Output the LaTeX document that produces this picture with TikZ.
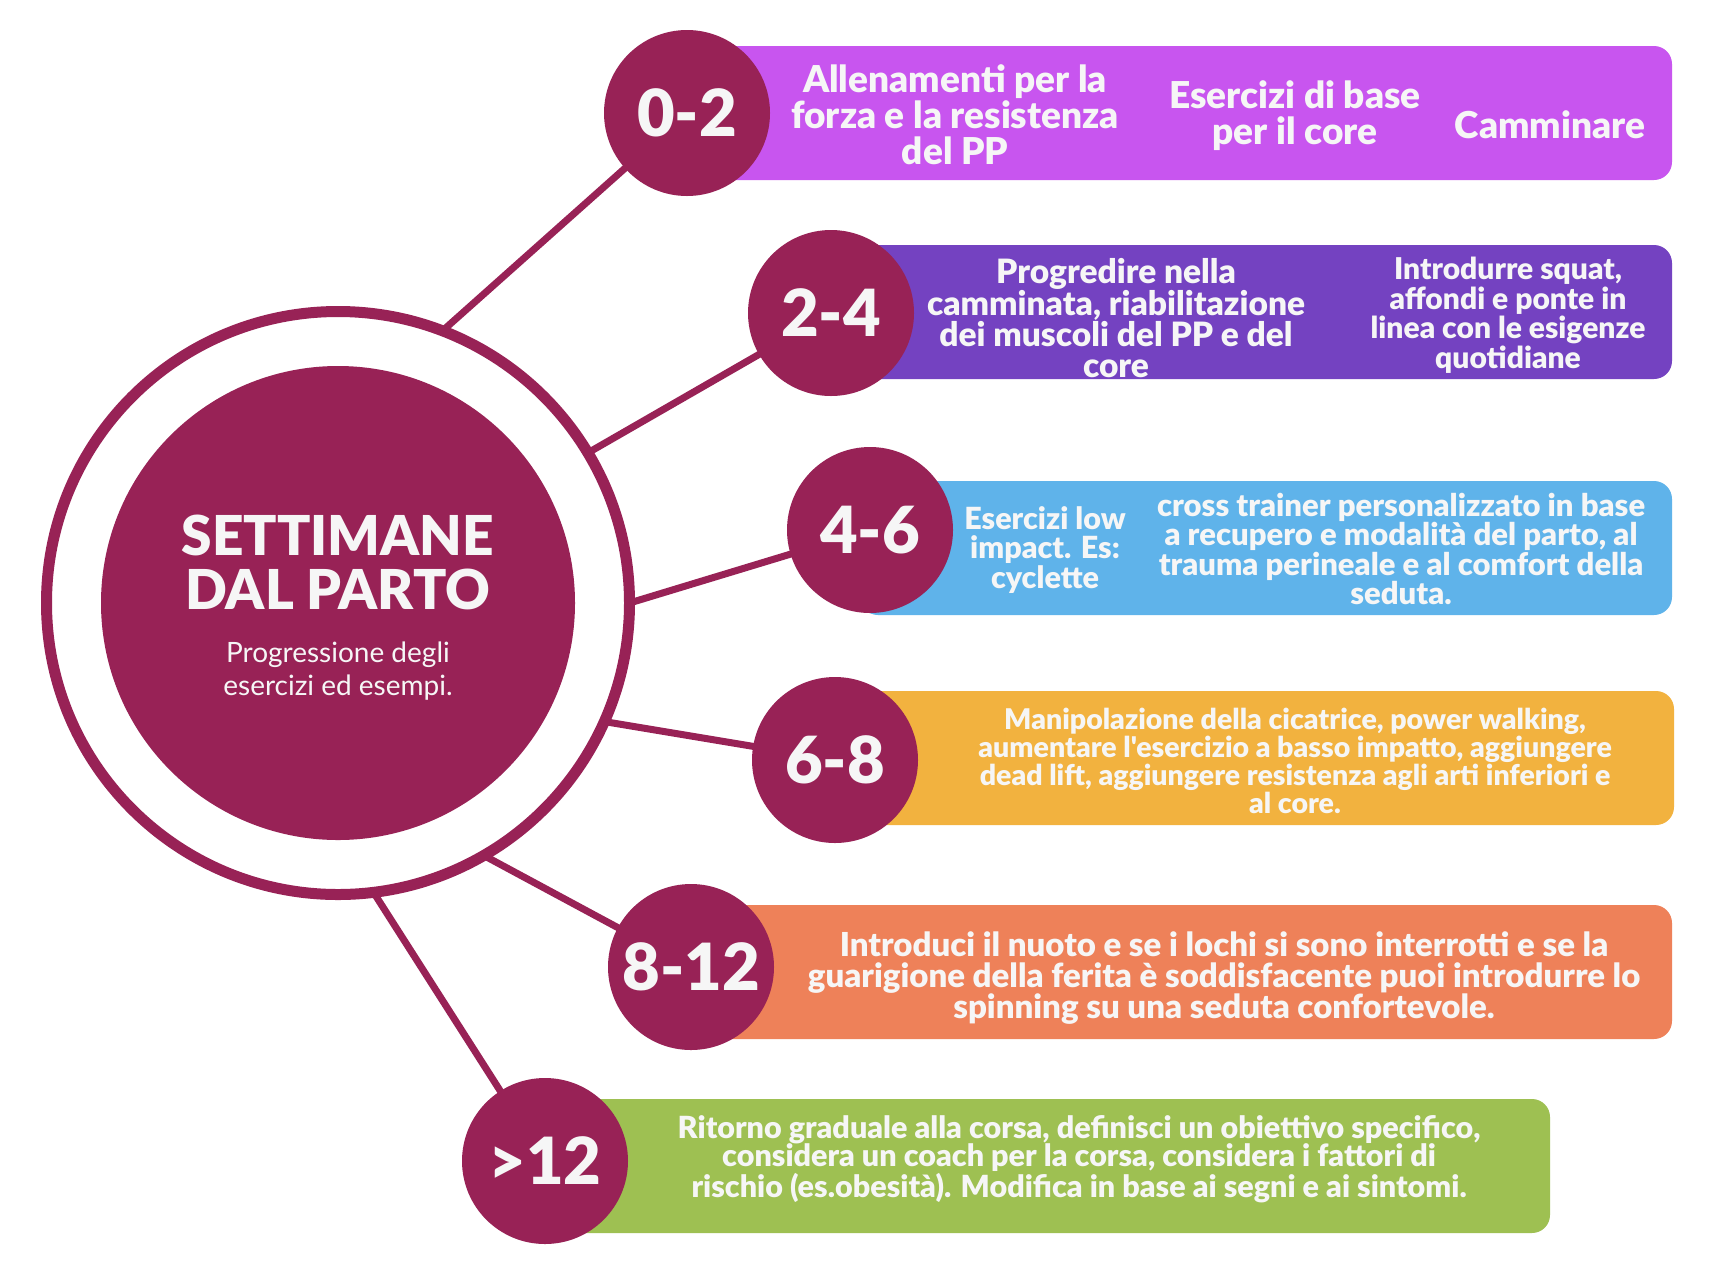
\documentclass[tikz,border=0pt]{standalone}
\usepackage{fontspec}
\setmainfont{Lato}
\newfontfamily\heavy{Lato Black}
\usetikzlibrary{backgrounds}
\definecolor{maroon}{HTML}{982256}
\definecolor{txt}{HTML}{F6F6F6}
\definecolor{colA}{HTML}{C855EF}
\definecolor{colB}{HTML}{7442C1}
\definecolor{colC}{HTML}{5FB3EA}
\definecolor{colD}{HTML}{F2B23F}
\definecolor{colE}{HTML}{EE8159}
\definecolor{colF}{HTML}{9EC052}
\begin{document}
\begin{tikzpicture}[x=1pt,y=-1pt,
  every node/.style={inner sep=0pt, outer sep=0pt},
  num/.style={circle, fill=maroon, minimum size=166pt, text=txt, font=\heavy\fontsize{65}{65}\selectfont},
  conn/.style={draw=maroon, line width=7pt},
  bar/.style={rounded corners=18pt, minimum height=134pt, anchor=north west},
  btxt/.style 2 args={text=txt, align=center, font=\heavy\fontsize{#1}{#2}\selectfont}
]
\useasboundingbox (0,0) rectangle (1710,1270);

% bars
\node[bar, fill=colA, minimum width=995pt] (b1) at (677,46) {};
\node[bar, fill=colB, minimum width=851pt] (b2) at (821,245) {};
\node[bar, fill=colC, minimum width=812pt] (b3) at (860,481) {};
\node[bar, fill=colD, minimum width=849pt] (b4) at (825,691) {};
\node[bar, fill=colE, minimum width=991pt] (b5) at (681,905) {};
\node[bar, fill=colF, minimum width=1015pt] (b6) at (535,1099) {};

% hub
\node[circle, draw=maroon, line width=11pt, fill=white, minimum size=583pt] (hub) at (338,603) {};
\node[circle, fill=maroon, minimum size=474pt] (core) at (338,603) {};

% number circles
\node[num] (c1) at (687,113) {0-2};
\node[num] (c2) at (831,313) {2-4};
\node[num] (c3) at (870,530) {4-6};
\node[num] (c4) at (835,760) {6-8};
\node[num] (c5) at (691,967) {8-12};
\node[num] (c6) at (545,1161) {>12};

% background and connectors
\begin{pgfonlayer}{background}
\fill[white] (0,0) rectangle (1710,1270);
\draw[conn] (hub.69.1) -- (c1.center);
\draw[conn] (hub.31.6) -- (c2.center);
\draw[conn] (hub.0.6) -- (c3.center);
\draw[conn] (hub.-24.1) -- (c4.center);
\draw[conn] (hub.-60.1) -- (c5.center);
\draw[conn] (hub.-83.7) -- (c6.center);
\end{pgfonlayer}

% title
\node[text=txt, align=center, font=\heavy\fontsize{55}{54}\selectfont] (title) at (338,562) {SETTIMANE\\DAL PARTO};
\node[text=txt, align=center, font=\fontsize{28}{33}\selectfont] (sub) at (338,671) {Progressione degli\\esercizi ed esempi.};

% bar texts
\node[btxt={37}{36}] (t1a) at (955,115) {Allenamenti per la\\forza e la resistenza\\del PP};
\node[btxt={37}{36}] (t1b) at (1295,116) {Esercizi di base\\per il core};
\node[btxt={37}{36}] (t1c) at (1550,125) {Camminare};

\node[btxt={33.5}{31}] (t2a) at (1116,318) {Progredire nella\\camminata, riabilitazione\\dei muscoli del PP e del\\core};
\node[btxt={30}{29.5}] (t2b) at (1508,315) {Introdurre squat,\\affondi e ponte in\\linea con le esigenze\\quotidiane};

\node[btxt={30.5}{29.5}] (t3a) at (1045,550) {Esercizi low\\impact. Es:\\cyclette};
\node[btxt={31}{29.5}] (t3b) at (1401,549) {cross trainer personalizzato in base\\a recupero e modalità del parto, al\\trauma perineale e al comfort della\\seduta.};

\node[btxt={28.5}{28}] (t4) at (1295,761) {Manipolazione della cicatrice, power walking,\\aumentare l'esercizio a basso impatto, aggiungere\\dead lift, aggiungere resistenza agli arti inferiori e\\al core.};

\node[btxt={33}{31}] (t5) at (1224,978) {Introduci il nuoto e se i lochi si sono interrotti e se la\\guarigione della ferita è soddisfacente puoi introdurre lo\\spinning su una seduta confortevole.};

\node[btxt={30.5}{28.5}] (t6) at (1079,1159) {Ritorno graduale alla corsa, definisci un obiettivo specifico,\\considera un coach per la corsa, considera i fattori di\\rischio (es.obesità). Modifica in base ai segni e ai sintomi.};
\end{tikzpicture}
\end{document}
